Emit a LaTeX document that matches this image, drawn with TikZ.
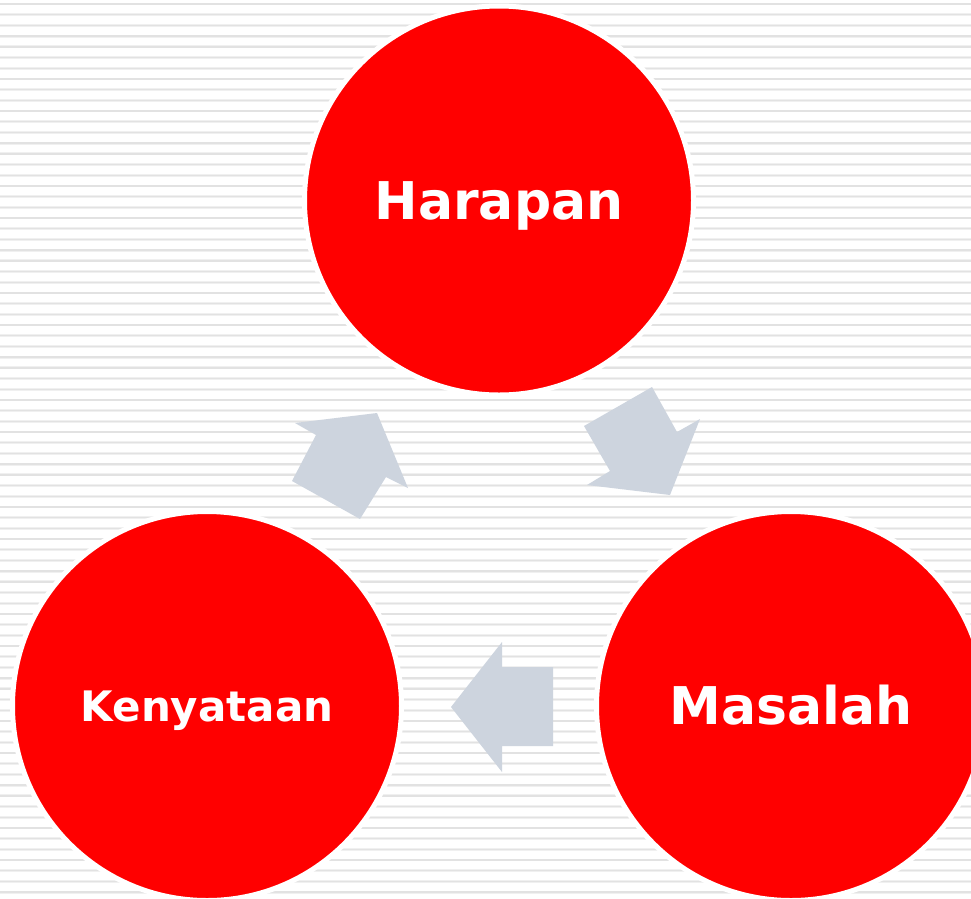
\documentclass[tikz,border=0pt]{standalone}
\usepackage{fontspec}
\setmainfont{DejaVu Sans}
\definecolor{arrowgray}{RGB}{205,212,222}
\definecolor{stripecore}{RGB}{226,226,226}
\definecolor{stripehalo}{RGB}{240,240,240}
\begin{document}
\begin{tikzpicture}[x=1pt,y=-1pt,
  bubble/.style={circle,inner sep=0pt,minimum size=389pt,fill=red,draw=white,line width=5pt,
    text=white,text depth=0pt},
  bigtext/.style={font=\fontsize{52}{52}\selectfont\bfseries,text height=37.9pt},
  smalltext/.style={font=\fontsize{42}{42}\selectfont\bfseries,text height=30.6pt},
  blockarrow/.style={fill=arrowgray,draw=none}]
\useasboundingbox (0,0) rectangle (971,898);
\fill[white] (0,0) rectangle (971,898);
\foreach \k in {0,...,83}{
  \draw[stripehalo,line width=2.8pt] (0,{4+10.7*\k}) -- (971,{4+10.7*\k});
  \draw[stripecore,line width=1.4pt] (0,{4+10.7*\k}) -- (971,{4+10.7*\k});
}
\node[bubble,bigtext] (harapan) at (499,200.5) {Harapan};
\node[bubble,smalltext] (kenyataan) at (207,706) {Kenyataan};
\node[bubble,bigtext] (masalah) at (791,706) {Masalah};
% block arrows
\fill[blockarrow] (295,423) -- (377,413) -- (408,488) -- (386,477) -- (360,519) -- (292,481) -- (316,435) -- cycle;
\fill[blockarrow] (584,426) -- (652,387) -- (677,432) -- (700,419) -- (670,495) -- (587,485) -- (610,471) -- cycle;
\fill[blockarrow] (502,642) -- (502,667) -- (553,667) -- (553,746) -- (502,746) -- (502,772) -- (451,707) -- cycle;
\end{tikzpicture}
\end{document}
